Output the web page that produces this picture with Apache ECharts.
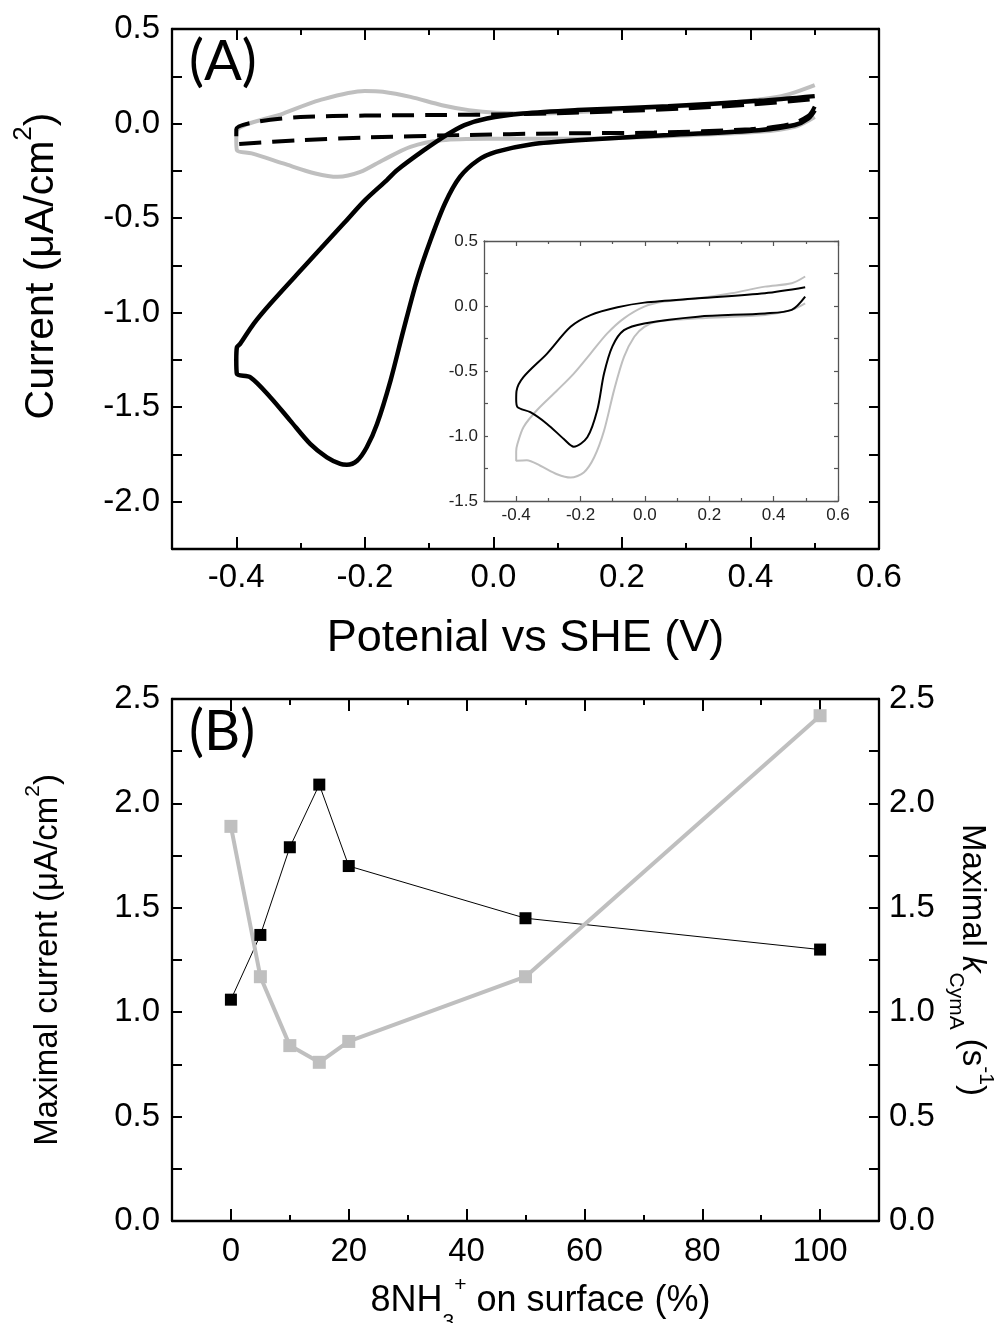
<!DOCTYPE html>
<html>
<head>
<meta charset="utf-8">
<script src="https://cdn.jsdelivr.net/npm/echarts@6/dist/echarts.min.js"></script>
<style>
  html, body { margin: 0; padding: 0; background: #ffffff; }
  #chart { width: 1002px; height: 1323px; }
</style>
</head>
<body>
<div id="chart"></div>
<script>
// ---------- Panel A: cyclic voltammograms (current density vs potential) ----------
// Each loop is stored as its cathodic sweep (0.5 V -> -0.4 V) and anodic sweep (-0.4 V -> 0.5 V).
const blackCathodic = [[0.5,0.07],[0.49,0.027],[0.469,-0.008],[0.413,-0.035],[0.272,-0.061],[0.131,-0.088],
  [0.06,-0.109],[0.004,-0.15],[-0.024,-0.194],[-0.052,-0.282],[-0.075,-0.42],[-0.098,-0.618],[-0.119,-0.829],
  [-0.14,-1.094],[-0.16,-1.359],[-0.181,-1.589],[-0.197,-1.712],[-0.212,-1.783],[-0.228,-1.804],[-0.238,-1.8],
  [-0.259,-1.765],[-0.285,-1.694],[-0.316,-1.571],[-0.347,-1.447],[-0.378,-1.342],[-0.399,-1.324]];
const blackAnodic = [[-0.4,-1.25],[-0.399,-1.183],[-0.394,-1.165],[-0.373,-1.059],[-0.347,-0.953],[-0.295,-0.759],
  [-0.233,-0.529],[-0.2,-0.406],[-0.166,-0.3],[-0.15,-0.247],[-0.108,-0.141],[-0.073,-0.061],[-0.045,-0.008],
  [-0.01,0.027],[0.046,0.053],[0.131,0.071],[0.272,0.092],[0.413,0.12],[0.5,0.145]];

const grayCathodic = [[0.5,0.035],[0.469,-0.017],[0.413,-0.044],[0.272,-0.067],[0.131,-0.08],[-0.01,-0.08],
  [-0.08,-0.088],[-0.129,-0.123],[-0.172,-0.194],[-0.207,-0.256],[-0.242,-0.282],[-0.277,-0.264],
  [-0.327,-0.211],[-0.376,-0.158],[-0.399,-0.141]];
const grayAnodic = [[-0.4,-0.09],[-0.399,-0.035],[-0.327,0.053],[-0.27,0.124],[-0.2,0.172],[-0.172,0.168],
  [-0.129,0.141],[-0.08,0.097],[-0.038,0.071],[0.004,0.057],[0.06,0.053],[0.202,0.075],[0.343,0.103],
  [0.448,0.145],[0.5,0.203]];

const dashedCathodic = [[0.5,0.09],[0.49,0.04],[0.46,-0.005],[0.4,-0.03],[0.25,-0.048],[0.1,-0.052],
  [-0.05,-0.061],[-0.2,-0.074],[-0.3,-0.088],[-0.4,-0.109]];
const dashedAnodic = [[-0.4,-0.03],[-0.37,0.008],[-0.3,0.034],[-0.2,0.042],[-0.1,0.045],[0.0,0.048],
  [0.1,0.055],[0.2,0.066],[0.3,0.08],[0.4,0.1],[0.5,0.13]];

// inset loops
const insetBlackCathodic = [[0.498,0.072],[0.456,-0.03],[0.373,-0.057],[0.165,-0.082],[-0.002,-0.134],
  [-0.065,-0.186],[-0.101,-0.31],[-0.127,-0.52],[-0.148,-0.8],[-0.179,-1.01],[-0.221,-1.082],[-0.252,-1.023],
  [-0.304,-0.907],[-0.356,-0.817],[-0.396,-0.778]];
const insetBlackAnodic = [[-0.4,-0.72],[-0.399,-0.655],[-0.377,-0.546],[-0.304,-0.366],[-0.231,-0.16],
  [-0.169,-0.07],[-0.085,-0.01],[-0.002,0.026],[0.165,0.059],[0.373,0.098],[0.498,0.144]];
const insetGrayCathodic = [[0.498,0.02],[0.456,-0.03],[0.373,-0.07],[0.165,-0.095],[0.04,-0.12],[-0.002,-0.16],
  [-0.033,-0.237],[-0.065,-0.392],[-0.096,-0.649],[-0.127,-0.959],[-0.158,-1.165],[-0.19,-1.28],[-0.231,-1.32],
  [-0.273,-1.294],[-0.325,-1.229],[-0.367,-1.186],[-0.4,-1.19]];
const insetGrayAnodic = [[-0.4,-1.12],[-0.396,-1.06],[-0.377,-0.93],[-0.335,-0.8],[-0.273,-0.65],[-0.221,-0.52],
  [-0.169,-0.366],[-0.117,-0.211],[-0.065,-0.095],[-0.002,-0.005],[0.06,0.034],[0.165,0.059],[0.269,0.098],
  [0.373,0.149],[0.456,0.175],[0.498,0.227]];

const potentialTicks = [-0.4, -0.2, 0.0, 0.2, 0.4, 0.6];
const potentialMinorTicks = [-0.3, -0.1, 0.1, 0.3, 0.5];
const currentTicks = [-2.0, -1.5, -1.0, -0.5, 0.0, 0.5];
const currentMinorTicks = [-1.75, -1.25, -0.75, -0.25, 0.25];
const insetCurrentTicks = [-1.5, -1.0, -0.5, 0.0, 0.5];
const insetCurrentMinorTicks = [-1.25, -0.75, -0.25, 0.25];

// ---------- Panel B: maximal current and maximal k(CymA) vs surface fraction ----------
const surfacePercent = [0, 5, 10, 15, 20, 50, 100];
const maximalCurrent = [1.06, 1.37, 1.79, 2.09, 1.70, 1.45, 1.30];
const maximalRate = [1.89, 1.17, 0.84, 0.76, 0.86, 1.17, 2.42];
const surfaceTicks = [0, 20, 40, 60, 80, 100];
const surfaceMinorTicks = [10, 30, 50, 70, 90];
const rateTicks = [0.0, 0.5, 1.0, 1.5, 2.0, 2.5];
const rateMinorTicks = [0.25, 0.75, 1.25, 1.75, 2.25];

const SANS = 'Liberation Sans, Arial, sans-serif';
const PANEL_FONT = 'Lato, Open Sans, sans-serif';
const GRAY = '#bfbfbf';

const chart = echarts.init(document.getElementById('chart'), null, { renderer: 'canvas' });

function fixed1(v) { return (Math.abs(v) < 1e-9 ? 0 : v).toFixed(1); }

// One side of a frame: an axis line with labelled major ticks, or a tick-only companion.
function xSide(grid, min, max, position, ticks, tickLen, frame, label, extra) {
  return Object.assign({
    type: 'value', gridIndex: grid, min: min, max: max, position: position,
    axisLine: { show: frame.show, onZero: false, lineStyle: { color: frame.color, width: frame.width } },
    axisTick: { show: true, inside: true, length: tickLen, customValues: ticks,
      lineStyle: { color: frame.color, width: frame.tickWidth } },
    axisLabel: label ? Object.assign({ show: true, customValues: ticks }, label) : { show: false },
    splitLine: { show: false }
  }, extra || {});
}

const frameA = { show: true, color: '#000', width: 2.3, tickWidth: 2 };
const frameInset = { show: true, color: '#555', width: 1.3, tickWidth: 1.2 };
const noLine = (f) => Object.assign({}, f, { show: false });

const xAxes = [
  // panel A
  xSide(0, -0.5, 0.6, 'bottom', potentialTicks, 12, frameA,
    { formatter: fixed1, fontSize: 33, fontFamily: SANS, color: '#000', margin: 12 },
    { name: 'Potenial vs SHE (V)', nameLocation: 'middle', nameGap: 67,
      nameTextStyle: { fontSize: 45, fontFamily: SANS, color: '#000' } }),
  xSide(0, -0.5, 0.6, 'bottom', potentialMinorTicks, 6, noLine(frameA)),
  xSide(0, -0.5, 0.6, 'top', potentialTicks, 11, frameA),
  xSide(0, -0.5, 0.6, 'top', potentialMinorTicks, 6, noLine(frameA)),
  // inset
  xSide(1, -0.5, 0.6, 'bottom', potentialTicks, 5, frameInset,
    { formatter: fixed1, fontSize: 17, fontFamily: SANS, color: '#222', margin: 6 }),
  xSide(1, -0.5, 0.6, 'bottom', potentialMinorTicks, 3, noLine(frameInset)),
  xSide(1, -0.5, 0.6, 'top', potentialTicks, 5, frameInset),
  xSide(1, -0.5, 0.6, 'top', potentialMinorTicks, 3, noLine(frameInset)),
  // panel B
  xSide(2, -10, 110, 'bottom', surfaceTicks, 12, frameA,
    { formatter: (v) => String(v), fontSize: 33, fontFamily: SANS, color: '#000', margin: 14 },
    { name: '8NH{sub|3}{sup|+} on surface (%)', nameLocation: 'middle', nameGap: 62,
      nameTextStyle: { fontSize: 36, fontFamily: SANS, color: '#000', padding: [0, 0, 0, 30],
        rich: { sub: { fontSize: 21, fontFamily: SANS, verticalAlign: 'bottom', padding: [0, 0, -14, 0] },
                sup: { fontSize: 21, fontFamily: SANS, verticalAlign: 'top', padding: [-8, 0, 0, 0] } } } }),
  xSide(2, -10, 110, 'bottom', surfaceMinorTicks, 6, noLine(frameA)),
  xSide(2, -10, 110, 'top', surfaceTicks, 12, frameA),
  xSide(2, -10, 110, 'top', surfaceMinorTicks, 6, noLine(frameA))
];

function ySide(grid, min, max, position, ticks, labelTicks, tickLen, frame, label, extra) {
  return Object.assign({
    type: 'value', gridIndex: grid, min: min, max: max, position: position,
    axisLine: { show: true, onZero: false, lineStyle: { color: frame.color, width: frame.width } },
    axisTick: { show: true, inside: true, length: tickLen, customValues: ticks,
      lineStyle: { color: frame.color, width: frame.tickWidth } },
    axisLabel: label ? Object.assign({ show: true, customValues: labelTicks }, label) : { show: false },
    splitLine: { show: false }
  }, extra || {});
}

const yAxes = [
  // panel A
  ySide(0, -2.25, 0.5, 'left', currentTicks.concat(currentMinorTicks), currentTicks, 10, frameA,
    { formatter: fixed1, fontSize: 33, fontFamily: SANS, color: '#000', margin: 12 },
    { name: 'Current (μA/cm{sup|2})', nameLocation: 'middle', nameGap: 110,
      nameTextStyle: { fontSize: 41, fontFamily: SANS, color: '#000', padding: [0, 0, 0, 46],
        rich: { sup: { fontSize: 26, fontFamily: SANS, verticalAlign: 'top', padding: [-10, 0, 0, 0] } } } }),
  ySide(0, -2.25, 0.5, 'right', currentTicks.concat(currentMinorTicks), null, 10, frameA),
  // inset
  ySide(1, -1.5, 0.5, 'left', insetCurrentTicks.concat(insetCurrentMinorTicks), insetCurrentTicks, 4, frameInset,
    { formatter: fixed1, fontSize: 17, fontFamily: SANS, color: '#222', margin: 6 }),
  ySide(1, -1.5, 0.5, 'right', insetCurrentTicks.concat(insetCurrentMinorTicks), null, 4, frameInset),
  // panel B
  ySide(2, 0, 2.5, 'left', rateTicks.concat(rateMinorTicks), rateTicks, 10, frameA,
    { formatter: fixed1, fontSize: 33, fontFamily: SANS, color: '#000', margin: 12 },
    { name: 'Maximal current (μA/cm{sup|2})', nameLocation: 'middle', nameGap: 108,
      nameTextStyle: { fontSize: 33, fontFamily: SANS, color: '#000',
        rich: { sup: { fontSize: 21, fontFamily: SANS, verticalAlign: 'top', padding: [-8, 0, 0, 0] } } } }),
  ySide(2, 0, 2.5, 'right', rateTicks.concat(rateMinorTicks), rateTicks, 10, frameA,
    { formatter: fixed1, fontSize: 33, fontFamily: SANS, color: '#000', margin: 10 },
    { name: 'Maximal {it|k}{sub|CymA} (s{sup|-1})', nameLocation: 'middle', nameGap: 76, nameRotate: -90,
      nameTextStyle: { fontSize: 33, fontFamily: SANS, color: '#000',
        rich: { it: { fontSize: 33, fontFamily: SANS, fontStyle: 'italic' },
                sub: { fontSize: 21, fontFamily: SANS, verticalAlign: 'bottom', padding: [0, 0, -10, 0] },
                sup: { fontSize: 21, fontFamily: SANS, verticalAlign: 'top', padding: [-8, 0, 0, 0] } } } })
];

function loop(cathodic, anodic) { return cathodic.concat(anodic); }
function pairs(xs, ys) { return xs.map((x, i) => [x, ys[i]]); }

const option = {
  animation: false,
  backgroundColor: '#ffffff',
  grid: [
    { left: 172, top: 29, width: 707, height: 520, outerBoundsMode: 'none', containLabel: false },
    { left: 484, top: 241, width: 354, height: 260, outerBoundsMode: 'none', containLabel: false },
    { left: 172, top: 699, width: 707, height: 522, outerBoundsMode: 'none', containLabel: false }
  ],
  xAxis: xAxes,
  yAxis: yAxes,
  graphic: [
    { type: 'text', left: 189, top: 34, style: { text: '(A)', fontSize: 56, fontFamily: PANEL_FONT, fill: '#000' } },
    { type: 'text', left: 189, top: 704, style: { text: '(B)', fontSize: 56, fontFamily: PANEL_FONT, fill: '#000' } }
  ],
  series: [
    { type: 'line', name: 'gray', xAxisIndex: 0, yAxisIndex: 0, data: loop(grayCathodic, grayAnodic),
      showSymbol: false, smooth: 0.3, lineStyle: { color: GRAY, width: 4 } },
    { type: 'line', name: 'black', xAxisIndex: 0, yAxisIndex: 0, data: loop(blackCathodic, blackAnodic),
      showSymbol: false, smooth: 0.3, lineStyle: { color: '#000', width: 4.5 } },
    { type: 'line', name: 'dashed', xAxisIndex: 0, yAxisIndex: 0, data: loop(dashedCathodic, dashedAnodic),
      showSymbol: false, smooth: 0.3, lineStyle: { color: '#000', width: 4, type: [22, 11] } },
    { type: 'line', name: 'inset gray', xAxisIndex: 4, yAxisIndex: 2, data: loop(insetGrayCathodic, insetGrayAnodic),
      showSymbol: false, smooth: 0.3, lineStyle: { color: GRAY, width: 2 } },
    { type: 'line', name: 'inset black', xAxisIndex: 4, yAxisIndex: 2, data: loop(insetBlackCathodic, insetBlackAnodic),
      showSymbol: false, smooth: 0.3, lineStyle: { color: '#000', width: 2 } },
    { type: 'line', name: 'Maximal current', xAxisIndex: 8, yAxisIndex: 4, data: pairs(surfacePercent, maximalCurrent),
      symbol: 'rect', symbolSize: 12, showAllSymbol: true,
      lineStyle: { color: '#000', width: 1 }, itemStyle: { color: '#000' } },
    { type: 'line', name: 'Maximal k', xAxisIndex: 8, yAxisIndex: 5, data: pairs(surfacePercent, maximalRate),
      symbol: 'rect', symbolSize: 13, showAllSymbol: true,
      lineStyle: { color: GRAY, width: 4 }, itemStyle: { color: GRAY } }
  ]
};

chart.setOption(option);
</script>
</body>
</html>
